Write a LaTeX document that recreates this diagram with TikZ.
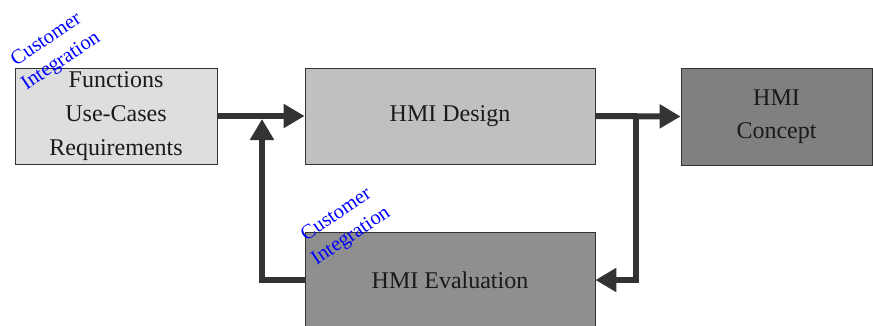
\documentclass[tikz,border=0pt]{standalone}
\usepackage{fontspec}
\setmainfont{Liberation Serif}
\usetikzlibrary{arrows.meta}
\definecolor{linecol}{HTML}{333333}
\definecolor{txtcol}{HTML}{1A1A1A}
\definecolor{fillA}{HTML}{DEDEDE}
\definecolor{fillB}{HTML}{C0C0C0}
\definecolor{fillC}{HTML}{808080}
\definecolor{fillD}{HTML}{8F8F8F}
\begin{document}
\begin{tikzpicture}[x=1pt,y=-1pt,
  box/.style={draw=linecol, line width=0.8pt, rectangle, inner sep=0pt, text=txtcol,
    align=center, font=\fontsize{24}{34}\selectfont},
  conn/.style={draw=linecol, line width=6pt, line join=miter,
    -{Triangle[length=21pt,width=23pt]}},
  cust/.style={text=blue, align=center, rotate=34, inner sep=0pt,
    font=\fontsize{20.5}{26}\selectfont}]
\useasboundingbox (0,0) rectangle (873,325);
\clip (0,0) rectangle (873,325);
\node[box, fill=fillA, minimum width=202pt, minimum height=96pt] (f) at (116,116)
  {Functions\\Use-Cases\\Requirements};
\node[box, fill=fillB, minimum width=290pt, minimum height=96pt] (d) at (450,116) {HMI Design};
\node[box, fill=fillC, minimum width=191pt, minimum height=97pt] (c) at (776.5,116.5)
  {HMI\\[-1pt]Concept};
\node[box, fill=fillD, minimum width=290pt, minimum height=96pt] (e) at (450,280) {HMI Evaluation};
\coordinate (j1) at (262,119);
\coordinate (j2) at (636,116);
\draw[conn] (f.east) -- (d.west);
\draw[conn] (d.east) -- (c.west);
\draw[conn] (e.west) -| (j1);
\draw[conn] (j2) |- (e.east);
\node[cust] (l1) at (54,51) {Customer\\Integration};
\node[cust] (l2) at (344,226) {Customer\\Integration};
\end{tikzpicture}
\end{document}
